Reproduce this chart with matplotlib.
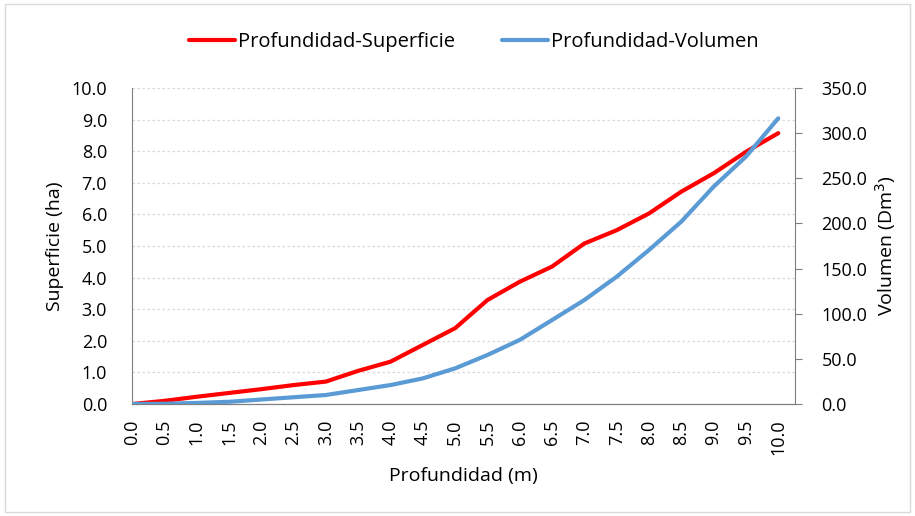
import matplotlib
matplotlib.use("Agg")
import matplotlib.pyplot as plt
from matplotlib.patches import Rectangle

plt.rcParams['font.family'] = ['Open Sans', 'DejaVu Sans']

profundidad = [0.0, 0.5, 1.0, 1.5, 2.0, 2.5, 3.0, 3.5, 4.0, 4.5, 5.0,
               5.5, 6.0, 6.5, 7.0, 7.5, 8.0, 8.5, 9.0, 9.5, 10.0]
superficie = [0.0, 0.1, 0.23, 0.35, 0.47, 0.6, 0.71, 1.05, 1.34, 1.87, 2.4,
              3.29, 3.87, 4.35, 5.08, 5.5, 6.03, 6.72, 7.3, 7.98, 8.57]
volumen = [0.0, 0.3, 1.2, 2.5, 5.0, 7.5, 10.0, 15.5, 21.0, 28.4, 39.5,
           54.3, 71.0, 93.0, 115.2, 141.0, 170.6, 202.0, 240.7, 274.0, 316.4]
xtick_labels = [f"{v:.1f}" for v in profundidad]

fig = plt.figure(figsize=(9.15, 5.16), dpi=100)
fig.patches.append(Rectangle((0.006, 0.008), 0.988, 0.984, transform=fig.transFigure,
                             fill=False, edgecolor='#d9d9d9', lw=1))
ax = fig.add_axes([0.1443, 0.217, 0.7246, 0.6125])
ax2 = ax.twinx()

red = '#ff0000'
blue = '#5b9bd5'
l1, = ax.plot(profundidad, superficie, color=red, lw=3, solid_capstyle='round',
              label='Profundidad-Superficie', zorder=3)
l2, = ax2.plot(profundidad, volumen, color=blue, lw=3, solid_capstyle='round',
               label='Profundidad-Volumen', zorder=3)

ax.set_xlim(0, 10.26)
ax.set_ylim(0, 10)
ax2.set_ylim(0, 350)
ax.set_yticks([i for i in range(11)])
ax.set_yticklabels([f"{i:.1f}" for i in range(11)])
ax2.set_yticks([i * 50 for i in range(8)])
ax2.set_yticklabels([f"{i*50:.1f}" for i in range(8)])
ax.set_xticks(profundidad)
ax.set_xticklabels(xtick_labels, rotation=90)

ax.grid(axis='y', color='#d9d9d9', linestyle=(0, (2, 2)), lw=0.9)
ax.set_axisbelow(True)

for a in (ax, ax2):
    a.spines['top'].set_visible(False)
    a.spines['left'].set_color('#7f7f7f')
    a.spines['right'].set_color('#7f7f7f')
    a.spines['bottom'].set_color('#7f7f7f')
ax2.spines['left'].set_visible(False)
ax.spines['right'].set_visible(False)

fs_tick = 13
ax.tick_params(axis='y', length=0, labelsize=fs_tick, labelcolor='#000000', pad=18)
ax.tick_params(axis='x', length=0, labelsize=fs_tick, labelcolor='#000000', pad=11)
ax2.tick_params(axis='y', length=5, color='#7f7f7f', labelsize=fs_tick, labelcolor='#000000', pad=14)

ax.set_xlabel('Profundidad (m)', fontsize=14)
ax.set_ylabel('Superficie (ha)', fontsize=14)
ax2.set_ylabel('Volumen (Dm$^3$)', fontsize=14)
ax.xaxis.set_label_coords(0.5, -0.228)
ax.xaxis.label.set_va('center')
ax.yaxis.set_label_coords(-0.116, 0.5)
ax.yaxis.label.set_va('center')
ax2.yaxis.set_label_coords(1.136, 0.5)
ax2.yaxis.label.set_va('center')

fig.legend(handles=[l1, l2], loc='center', bbox_to_anchor=(0.518, 0.918), ncol=2,
           frameon=False, fontsize=14.5, handlelength=2.3, handletextpad=0.15,
           columnspacing=2.3)

fig.savefig('out.png', dpi=100)
